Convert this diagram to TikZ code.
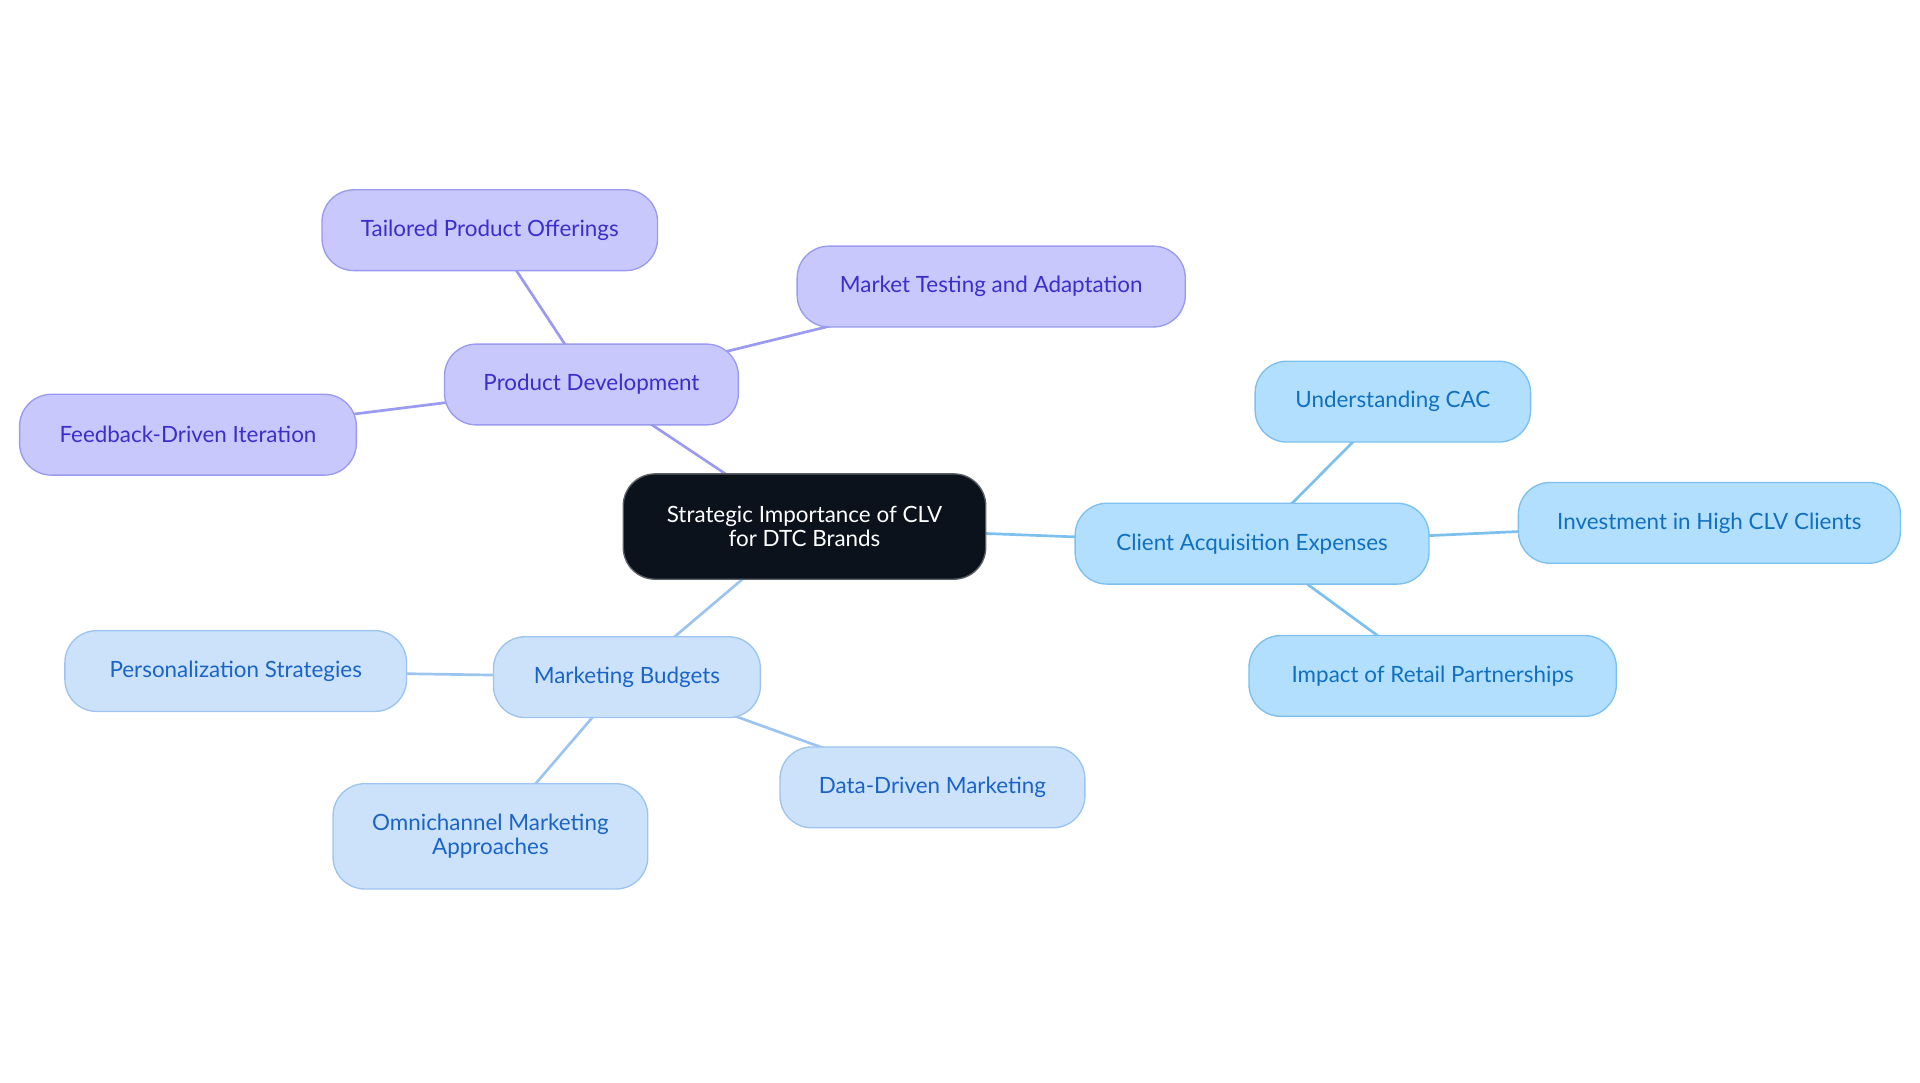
\documentclass[tikz,border=0pt]{standalone}
\usepackage{fontspec}
\setmainfont{Lato}
\usetikzlibrary{backgrounds}
\begin{document}
\begin{tikzpicture}[x=1pt,y=-1pt,
  base/.style={draw, rounded corners=26pt, line width=1.1pt, align=center, font=\fontsize{18.3}{20}\selectfont, inner sep=0pt, minimum height=66pt},
  center/.style={base, fill=cdark, draw=cgray, text=white, minimum height=86pt},
  pd/.style={base, fill=pfill, draw=pline, text=ptext},
  ca/.style={base, fill=cfill, draw=cline, text=ctext},
  mb/.style={base, fill=mfill, draw=mline, text=mtext},
  pe/.style={draw=pline, line width=2.2pt},
  ce/.style={draw=cline, line width=2.2pt},
  me/.style={draw=mline, line width=2.2pt}]
\definecolor{cdark}{HTML}{0C121C}
\definecolor{cgray}{HTML}{5A5F66}
\definecolor{pfill}{HTML}{C8C8FC}
\definecolor{pline}{HTML}{9A9AF0}
\definecolor{ptext}{HTML}{3B2ECC}
\definecolor{cfill}{HTML}{B3DFFF}
\definecolor{cline}{HTML}{7CC0F0}
\definecolor{ctext}{HTML}{1070C0}
\definecolor{mfill}{HTML}{CCE2FB}
\definecolor{mline}{HTML}{9DC4F0}
\definecolor{mtext}{HTML}{1A64C8}
\useasboundingbox (0,0) rectangle (1568,884.4);
\node[center, minimum width=296pt] (root) at (657,430) {Strategic Importance of CLV\\for DTC Brands};
\node[pd, minimum width=240pt] (pdv) at (483,314) {Product Development};
\node[pd, minimum width=274pt] (tpo) at (400,188) {Tailored Product Offerings};
\node[pd, minimum width=317pt] (mta) at (809.5,234) {Market Testing and Adaptation};
\node[pd, minimum width=275pt] (fdi) at (153.5,355) {Feedback-Driven Iteration};
\node[ca, minimum width=289pt] (cae) at (1022.5,444) {Client Acquisition Expenses};
\node[ca, minimum width=225pt] (uca) at (1137.5,328) {Understanding CAC};
\node[ca, minimum width=312pt] (ihc) at (1396,427) {Investment in High CLV Clients};
\node[ca, minimum width=300pt] (irp) at (1170,552) {Impact of Retail Partnerships};
\node[mb, minimum width=218pt] (mkb) at (512,553) {Marketing Budgets};
\node[mb, minimum width=279pt] (pss) at (192.5,548) {Personalization Strategies};
\node[mb, minimum width=257pt, minimum height=86pt] (oma) at (400.5,683) {Omnichannel Marketing\\Approaches};
\node[mb, minimum width=249pt] (ddm) at (761.5,643) {Data-Driven Marketing};
\begin{scope}[on background layer]
\draw[pe] (root.center) -- (pdv.center);
\draw[pe] (pdv.center) -- (tpo.center);
\draw[pe] (pdv.center) -- (mta.center);
\draw[pe] (pdv.center) -- (fdi.center);
\draw[ce] (root.center) -- (cae.center);
\draw[ce] (cae.center) -- (uca.center);
\draw[ce] (cae.center) -- (ihc.center);
\draw[ce] (cae.center) -- (irp.center);
\draw[me] (root.center) -- (mkb.center);
\draw[me] (mkb.center) -- (pss.center);
\draw[me] (mkb.center) -- (oma.center);
\draw[me] (mkb.center) -- (ddm.center);
\end{scope}
\end{tikzpicture}
\end{document}
